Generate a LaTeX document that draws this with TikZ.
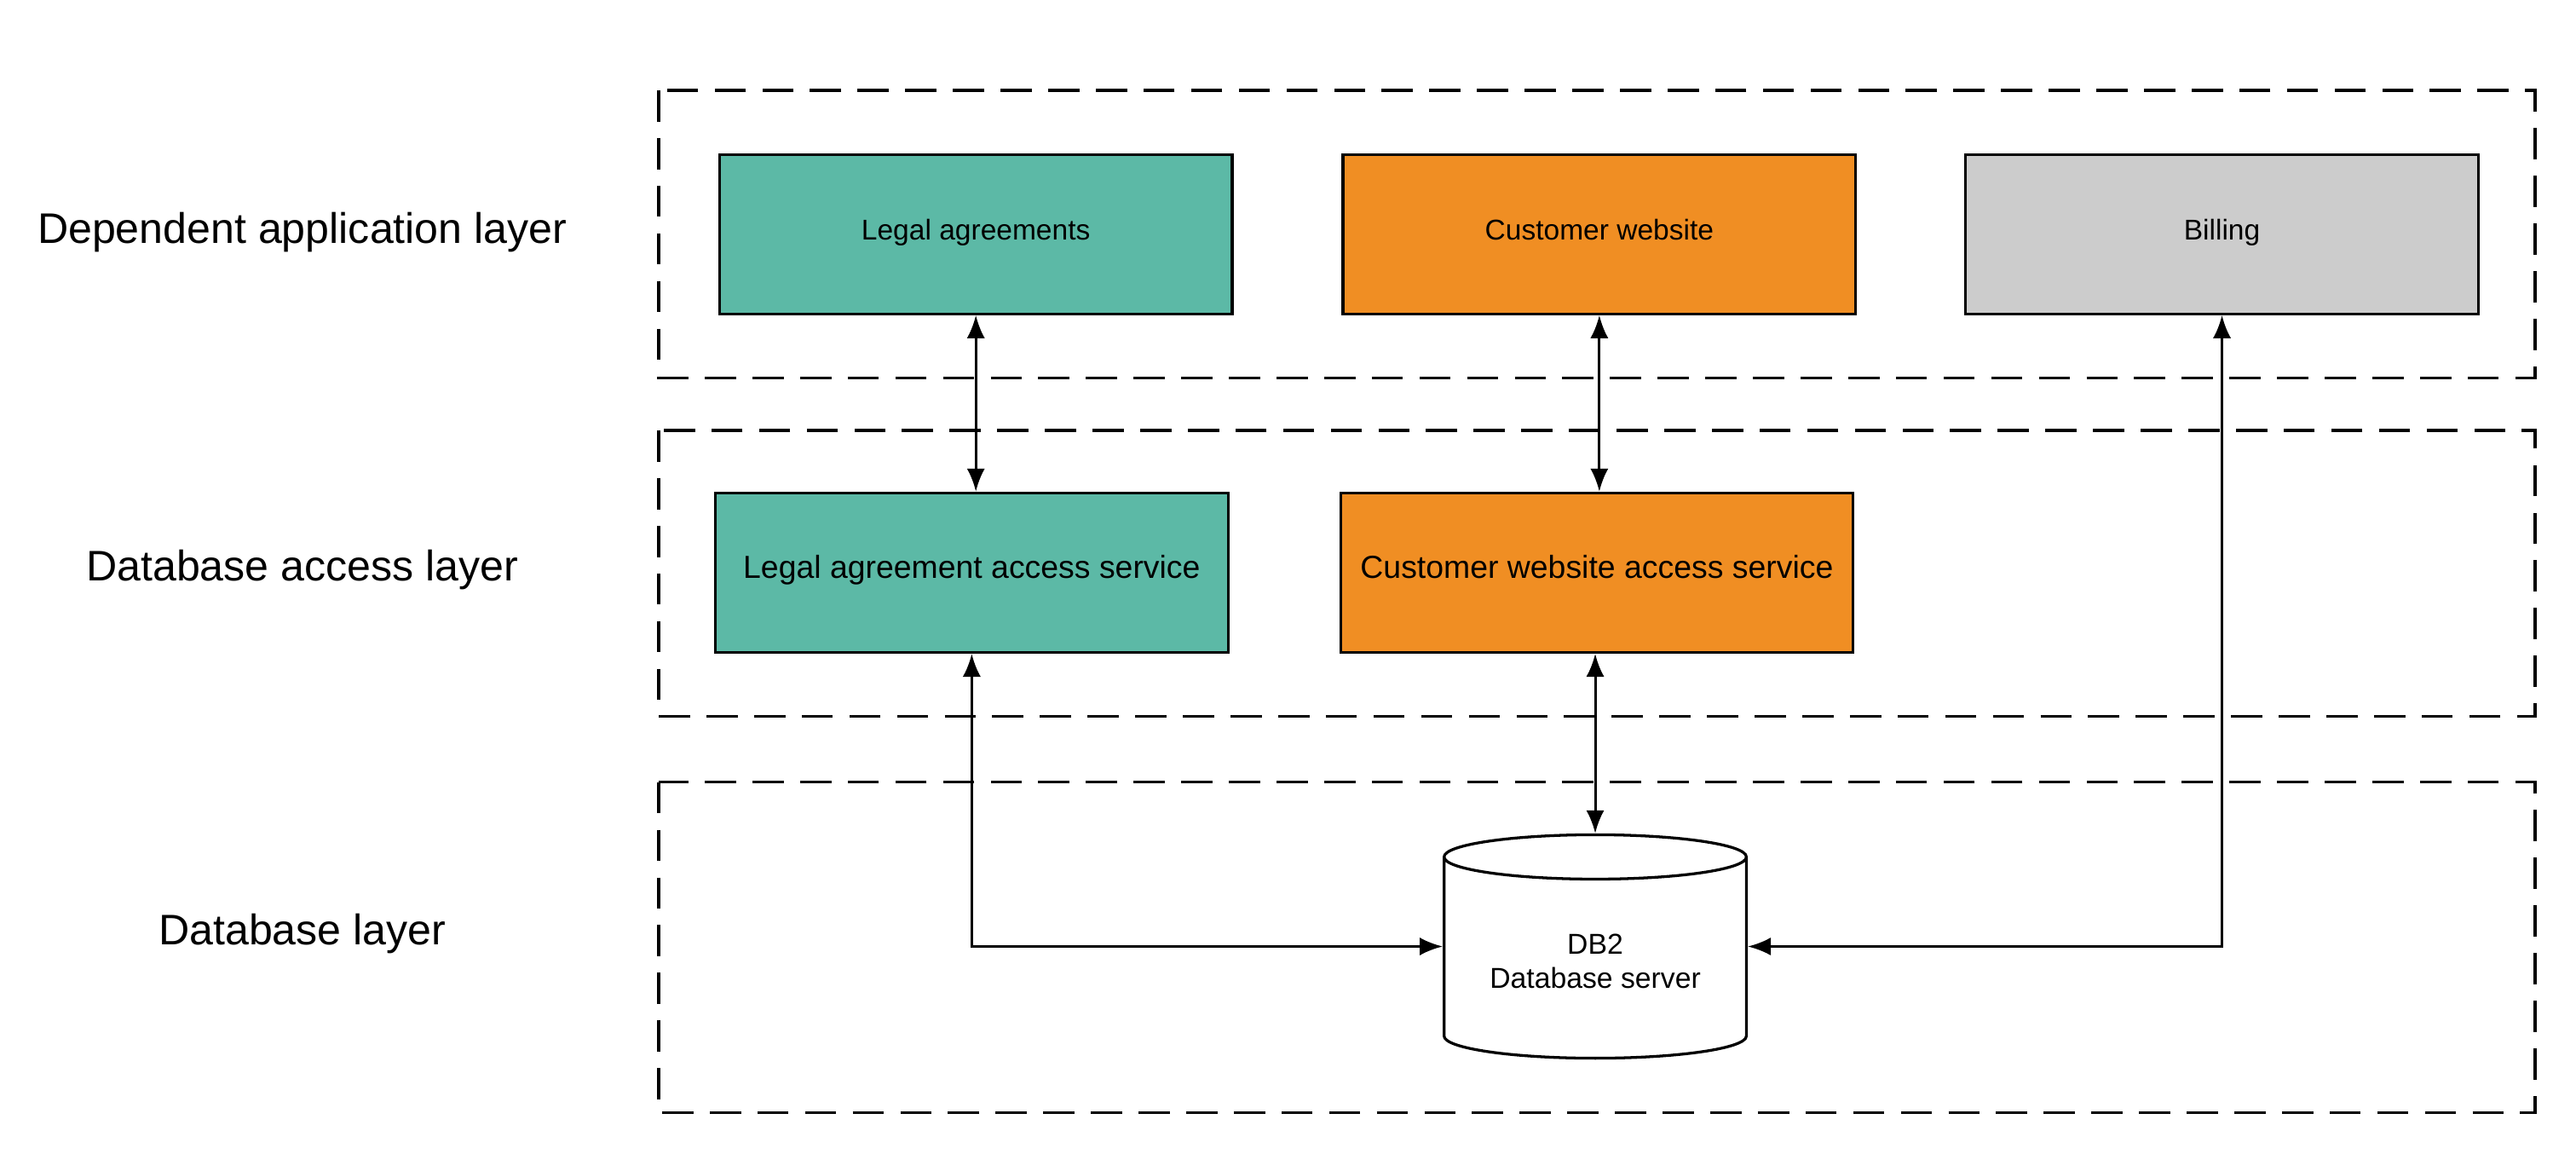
\documentclass[tikz,border=0pt]{standalone}
\usepackage{fontspec}
\setmainfont{Liberation Sans}
\usetikzlibrary{arrows.meta,shapes.geometric}
\definecolor{legalteal}{HTML}{5CB9A6}
\definecolor{weborange}{HTML}{F08E23}
\definecolor{billgray}{HTML}{CCCCCC}
\begin{document}
\begin{tikzpicture}[x=1pt,y=-1pt]
  \tikzstyle{layer}=[draw,line width=1.8pt,dash pattern=on 19pt off 10pt]
  \tikzstyle{app}=[draw,line width=1.7pt,minimum width=312pt,minimum height=97pt,
    text height=0.78em,text depth=0.1em,font=\fontsize{17.4}{20}\selectfont]
  \tikzstyle{access}=[app,font=\fontsize{19.4}{23}\selectfont]
  \tikzstyle{layername}=[font=\fontsize{26}{31}\selectfont]
  \tikzstyle{dbshape}=[draw,line width=1.7pt,cylinder,shape border rotate=90,aspect=0.2,
    minimum width=184pt,minimum height=136pt,align=center,anchor=shape center,
    font=\fontsize{17.5}{21}\selectfont]
  \tikzstyle{link}=[line width=1.6pt,{Latex[length=14pt,width=11pt]}-{Latex[length=14pt,width=11pt]}]
  \useasboundingbox (0,0) rectangle (1568,702);
  \draw[layer] (401,55) rectangle (1543,230);
  \draw[layer] (401,262) rectangle (1543,436);
  \draw[layer] (401,476) rectangle (1543,677);
  \node[layername] (applayer) at (184,141.5) {Dependent application layer};
  \node[layername] (accesslayer) at (184,347) {Database access layer};
  \node[layername] (dblayer) at (184,568) {Database layer};
  \node[app,fill=legalteal] (legal) at (594,142.5) {Legal agreements};
  \node[app,fill=weborange] (web) at (973.5,142.5) {Customer website};
  \node[app,fill=billgray] (bill) at (1352.5,142.5) {Billing};
  \node[access,fill=legalteal] (legalacc) at (591.5,348.5) {Legal agreement access service};
  \node[access,fill=weborange] (webacc) at (972,348.5) {Customer website access service};
  \node[dbshape] (db) at (971,576) {DB2\\Database server};
  \draw[link] (legal.south) -- (legal.south |- legalacc.north);
  \draw[link] (web.south) -- (web.south |- webacc.north);
  \draw[link] (webacc.south -| db.north) -- (db.north);
  \draw[link] (legalacc.south) |- (db.shape center -| db.west);
  \draw[link] (bill.south) |- (db.shape center -| db.east);
\end{tikzpicture}
\end{document}
